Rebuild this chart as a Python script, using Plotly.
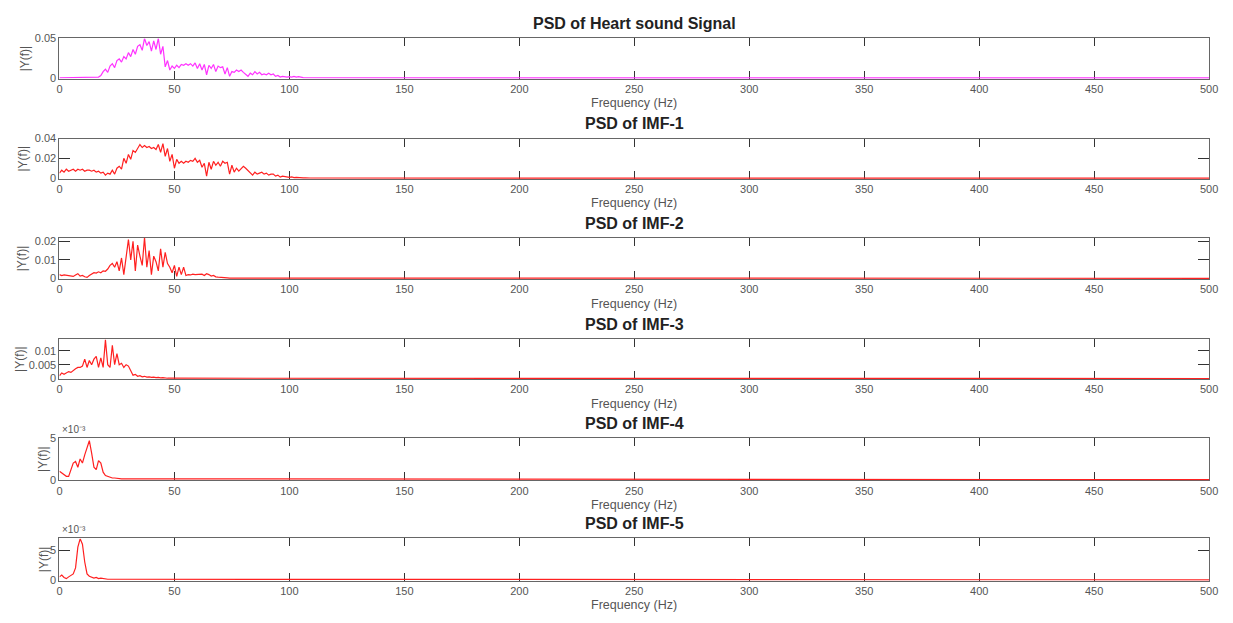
import plotly.graph_objects as go

# ---------------- data ----------------
TITLES = ["PSD of Heart sound Signal", "PSD of IMF-1", "PSD of IMF-2",
          "PSD of IMF-3", "PSD of IMF-4", "PSD of IMF-5"]
X_LABEL = "Frequency (Hz)"
Y_LABEL = "|Y(f)|"
X_TICKS = [0, 50, 100, 150, 200, 250, 300, 350, 400, 450, 500]
F_END = 500          # last frequency bin (Hz)
END_VALUE = 0.0      # spectrum value at the end of the band

psd_signal = [0.0002, 0.0002, 0.0002, 0.0002, 0.0002, 0.0002, 0.0002, 0.0002, 0.0002, 0.0002,
              0.0002, 0.0002, 0.0002, 0.0003, 0.0003, 0.0004,
              0.0005, 0.001, 0.003, 0.008, 0.011, 0.007, 0.015, 0.018, 0.013, 0.022,
              0.024, 0.02, 0.027, 0.024, 0.032, 0.027, 0.036, 0.03, 0.04, 0.042,
              0.035, 0.05, 0.041, 0.046, 0.034, 0.047, 0.036, 0.05, 0.03, 0.04,
              0.014, 0.022, 0.01, 0.015, 0.012, 0.016, 0.013, 0.017, 0.016, 0.018,
              0.016, 0.018, 0.015, 0.019, 0.012, 0.018, 0.01, 0.017, 0.004, 0.016,
              0.012, 0.017, 0.008, 0.015, 0.013, 0.014, 0.005, 0.013, 0.002, 0.008,
              0.007, 0.01, 0.008, 0.01, 0.007, 0.005, 0.002, 0.006, 0.004, 0.008,
              0.005, 0.007, 0.004, 0.005, 0.004, 0.006, 0.004, 0.005, 0.002, 0.003,
              0.001, 0.002, 0.001, 0.001, 0.0015, 0.001, 0.002, 0.001, 0.0015, 0.0005,
              0.0003, 0.0002, 0.0002, 0.0001, 0.0001]

psd_imf1 = [0.005, 0.008, 0.006, 0.009, 0.007, 0.008, 0.009, 0.007, 0.009, 0.008,
            0.009, 0.007, 0.008, 0.008, 0.007, 0.008, 0.006, 0.007, 0.005, 0.006,
            0.003, 0.005, 0.004, 0.008, 0.004, 0.01, 0.012, 0.009, 0.02, 0.015,
            0.024, 0.019, 0.028, 0.026, 0.03, 0.034, 0.031, 0.033, 0.031, 0.032,
            0.03, 0.031, 0.029, 0.034, 0.026, 0.035, 0.022, 0.03, 0.017, 0.024,
            0.01, 0.019, 0.015, 0.017, 0.015, 0.017, 0.016, 0.018, 0.017, 0.02,
            0.016, 0.018, 0.011, 0.015, 0.002, 0.016, 0.009, 0.017, 0.013, 0.016,
            0.012, 0.017, 0.015, 0.016, 0.004, 0.013, 0.006, 0.01, 0.007, 0.009,
            0.012, 0.01, 0.008, 0.005, 0.003, 0.006, 0.004, 0.005, 0.006, 0.004,
            0.005, 0.003, 0.004, 0.004, 0.002, 0.003, 0.001, 0.002, 0.0015, 0.001,
            0.0008, 0.0012, 0.0005, 0.0008, 0.0004, 0.0006, 0.0002, 0.0003, 0.0001, 0.0001]

psd_imf2 = [0.002, 0.0015, 0.0018, 0.0016, 0.0012, 0.0014, 0.001, 0.0018, 0.0025, 0.0012,
            0.0015, 0.0008, 0.0005, 0.0015, 0.0025, 0.003, 0.0028, 0.0035, 0.003, 0.004,
            0.0038, 0.005, 0.007, 0.008, 0.006, 0.009, 0.004, 0.011, 0.002, 0.013,
            0.021, 0.01, 0.02, 0.004, 0.018, 0.012, 0.007, 0.022, 0.006, 0.015,
            0.002, 0.012, 0.009, 0.004, 0.016, 0.006, 0.014, 0.008, 0.006, 0.003,
            0.007, 0.001, 0.006, 0.002, 0.006, 0.0015, 0.002, 0.0018, 0.0022, 0.002,
            0.002, 0.0018, 0.0022, 0.0015, 0.0025, 0.002, 0.0012, 0.0015, 0.0008, 0.0006,
            0.0004, 0.0003, 0.0002, 0.0002, 0.0001]

psd_imf3 = [0.001, 0.002, 0.0015, 0.002, 0.0025, 0.0022, 0.003, 0.0035, 0.004, 0.004,
            0.0045, 0.007, 0.004, 0.0065, 0.005, 0.007, 0.008, 0.004, 0.0075, 0.004,
            0.014, 0.005, 0.004, 0.012, 0.005, 0.009, 0.005, 0.0055, 0.004, 0.005,
            0.0045, 0.003, 0.0012, 0.0015, 0.0008, 0.001, 0.0006, 0.0008, 0.0005, 0.0006,
            0.0004, 0.0005, 0.0003, 0.0004, 0.0002, 0.0003, 0.0001, 0.0001]

psd_imf4 = [0.001, 0.0008, 0.0005, 0.0004, 0.0004, 0.0012, 0.002, 0.0022, 0.0015, 0.0025,
            0.002, 0.003, 0.0038, 0.0047, 0.0032, 0.0015, 0.0012, 0.0023, 0.002, 0.0009,
            0.0005, 0.0004, 0.0003, 0.0002, 0.0002, 0.00015, 0.0001, 0.0001]

psd_imf5 = [0.0005, 0.0008, 0.0004, 0.0002, 0.0005, 0.0008, 0.001, 0.002, 0.0055, 0.0069,
            0.006, 0.003, 0.001, 0.0006, 0.0004, 0.0003, 0.0004, 0.0002, 0.0003, 0.0002,
            0.0002, 0.0001, 0.0001, 0.0001]

SERIES = [psd_signal, psd_imf1, psd_imf2, psd_imf3, psd_imf4, psd_imf5]
COLORS = ["#ff33ff", "#ff2020", "#ff2020", "#ff2020", "#ff2020", "#ff2020"]
Y_MAX = [0.05, 0.04, 0.0219, 0.0143, 0.005, 0.00696]
Y_TICKVALS = [[0, 0.05], [0, 0.02, 0.04], [0, 0.01, 0.02], [0, 0.005, 0.01], [0, 0.005], [0, 0.005]]
Y_TICKTEXT = [["0", "0.05"], ["0", "0.02", "0.04"], ["0", "0.01", "0.02"],
              ["0", "0.005", "0.01"], ["0", "5"], ["0", "5"]]
EXPONENT = [None, None, None, None, "×10⁻³", "×10⁻³"]

# ---------------- layout geometry (pixels) ----------------
W, H = 1233, 623
X0, X1 = 57, 1218
TOPS = [33, 135, 236, 339, 440, 542]
BOTS = [74, 176, 278, 380, 483, 585]
YLAB_X = [22, 20, 20, 17, 41, 41]

FONT = "Liberation Sans, Arial, Helvetica, sans-serif"

def px(x):
    return x / W

def py(y):
    return 1 - y / H

fig = go.Figure()
annotations = []
layout = {}
for i, vals in enumerate(SERIES):
    n = i + 1
    sfx = "" if n == 1 else str(n)
    freqs = list(range(len(vals))) + [F_END]
    yvals = list(vals) + [END_VALUE]
    fig.add_trace(go.Scatter(x=freqs, y=yvals, mode="lines",
                             line=dict(color=COLORS[i], width=1.2),
                             xaxis="x" + sfx, yaxis="y" + sfx, showlegend=False,
                             hoverinfo="skip"))
    layout["xaxis" + sfx] = dict(
        domain=[px(X0), px(X1)], anchor="y" + sfx, range=[0, 500],
        tickvals=X_TICKS, ticks="inside", ticklen=8, tickwidth=1, tickcolor="#333333",
        showline=True, linecolor="#666666", linewidth=1, mirror="ticks",
        showgrid=False, zeroline=False, layer="below traces",
        tickfont=dict(family=FONT, size=11, color="#555555"),
    )
    layout["yaxis" + sfx] = dict(
        domain=[py(BOTS[i]), py(TOPS[i])], anchor="x" + sfx,
        range=[-0.02 * Y_MAX[i], Y_MAX[i]],
        tickvals=Y_TICKVALS[i], ticktext=Y_TICKTEXT[i],
        ticks="inside", ticklen=11, tickwidth=1, tickcolor="#333333",
        showline=True, linecolor="#666666", linewidth=1, mirror="ticks",
        showgrid=False, zeroline=False, layer="below traces",
        tickfont=dict(family=FONT, size=11, color="#555555"),
    )
    # title
    annotations.append(dict(text="<b>" + TITLES[i] + "</b>", x=px((X0 + X1) / 2),
                            y=py(TOPS[i] - 15), xref="paper", yref="paper",
                            showarrow=False, xanchor="center", yanchor="middle",
                            font=dict(family=FONT, size=16, color="#222222")))
    # x label
    annotations.append(dict(text=X_LABEL, x=px((X0 + X1) / 2), y=py(BOTS[i] + 25),
                            xref="paper", yref="paper", showarrow=False,
                            xanchor="center", yanchor="middle",
                            font=dict(family=FONT, size=12.5, color="#555555")))
    # y label
    annotations.append(dict(text=Y_LABEL, x=px(YLAB_X[i]), y=py((TOPS[i] + BOTS[i]) / 2),
                            xref="paper", yref="paper", showarrow=False, textangle=-90,
                            xanchor="center", yanchor="middle",
                            font=dict(family=FONT, size=12, color="#555555")))
    if EXPONENT[i]:
        annotations.append(dict(text=EXPONENT[i], x=px(X0 + 1), y=py(TOPS[i] - 1),
                                xref="paper", yref="paper", showarrow=False,
                                xanchor="left", yanchor="bottom",
                                font=dict(family=FONT, size=10, color="#555555")))

fig.update_layout(
    width=W, height=H, margin=dict(l=0, r=0, t=0, b=0),
    paper_bgcolor="white", plot_bgcolor="white",
    annotations=annotations, **layout,
)

fig.write_html("out.html")
